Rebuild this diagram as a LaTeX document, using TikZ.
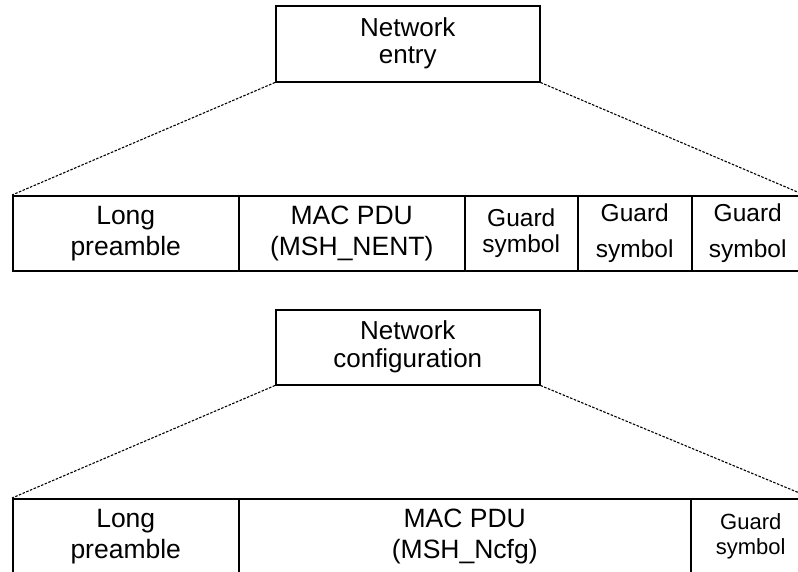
\documentclass[tikz,border=0pt]{standalone}
\usepackage{fontspec}
\setmainfont{Liberation Sans}

\tikzset{
  frame/.style={draw, line width=1.5pt, inner sep=0pt, minimum height=75pt,
    align=center, anchor=north west, font=\fontsize{26.5}{31}\selectfont},
  guard/.style={frame, font=\fontsize{24.5}{26}\selectfont},
  zoomline/.style={line width=1.1pt, dash pattern=on 2.5pt off 1.5pt}
}

\begin{document}
\begin{tikzpicture}[x=1pt,y=-1pt]
  \useasboundingbox (0,0) rectangle (798,571);
  % Network entry burst
  \node[frame, minimum width=264pt, minimum height=76pt,
    font=\fontsize{26}{27}\selectfont] (entry) at (275,5) {Network\\entry};
  \node[frame, minimum width=226pt] (nentpre) at (12,195) {Long\\preamble};
  \node[frame, minimum width=226pt] (nentpdu) at (238,195) {MAC PDU\\(MSH\_NENT)};
  \node[guard, minimum width=113pt] (nentga) at (464,195) {Guard\\symbol};
  \node[guard, minimum width=114pt, font=\fontsize{24.5}{36}\selectfont] (nentgb) at (577,195) {Guard\\symbol};
  \node[guard, minimum width=112pt, font=\fontsize{24.5}{36}\selectfont] (nentgc) at (691,195) {Guard\\symbol};
  \draw[zoomline] (entry.south west) -- (nentpre.north west);
  \draw[zoomline] (entry.south east) -- (nentgc.north east);
  % Network configuration burst
  \node[frame, minimum width=264pt, font=\fontsize{26}{28}\selectfont] (config) at (275,309) {Network\\configuration};
  \node[frame, minimum width=226pt] (ncfgpre) at (12,498) {Long\\preamble};
  \node[frame, minimum width=452pt] (ncfgpdu) at (238,498) {MAC PDU\\(MSH\_Ncfg)};
  \node[guard, minimum width=120pt, font=\fontsize{22}{25}\selectfont] (ncfgg) at (690,498) {Guard\\symbol};
  \draw[zoomline] (config.south west) -- (ncfgpre.north west);
  \draw[zoomline] (config.south east) -- (ncfgg.north east);
\end{tikzpicture}
\end{document}
